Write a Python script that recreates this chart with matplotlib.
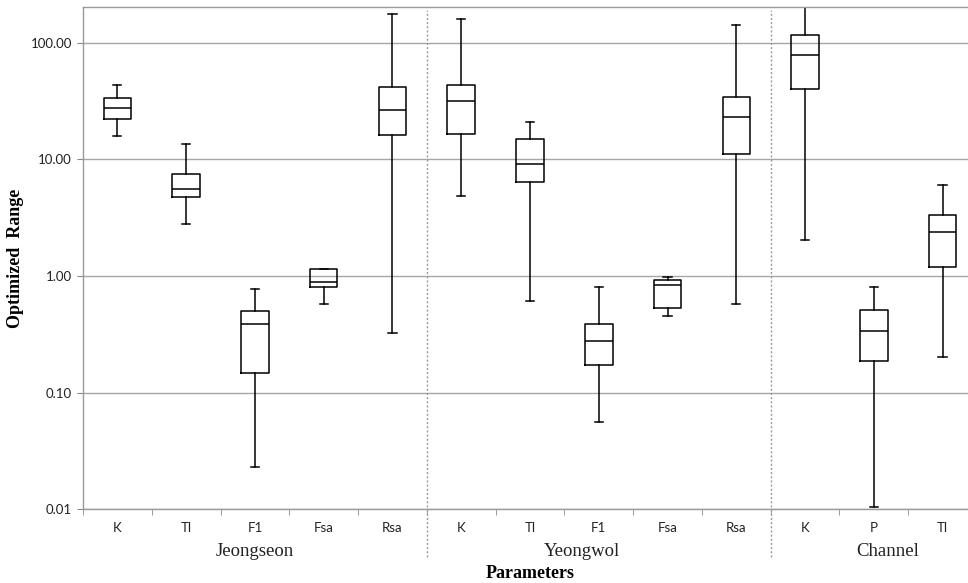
import matplotlib
matplotlib.use("Agg")
import matplotlib.pyplot as plt
import matplotlib.transforms as mtransforms

# box statistics per parameter (log scale values)
labels = ["K", "Tl", "F1", "Fsa", "Rsa",
          "K", "Tl", "F1", "Fsa", "Rsa",
          "K", "P", "Tl"]
whislo = [15.8, 2.81, 0.0232, 0.575, 0.327,
          4.85, 0.610, 0.056, 0.454, 0.575,
          2.04, 0.0105, 0.202]
q1 = [22.2, 4.79, 0.147, 0.80, 16.1,
      16.6, 6.43, 0.171, 0.528, 11.2,
      40.3, 0.188, 1.19]
med = [27.4, 5.53, 0.385, 0.894, 26.3,
       31.6, 9.07, 0.279, 0.84, 23.2,
       78.0, 0.338, 2.40]
q3 = [33.8, 7.45, 0.504, 1.14, 41.5,
      43.1, 14.9, 0.390, 0.92, 34.2,
      115.7, 0.514, 3.33]
whishi = [43.1, 13.4, 0.778, 1.15, 176.0,
          160.6, 20.8, 0.81, 0.98, 142.7,
          260.0, 0.81, 6.03]

groups = ["Jeongseon", "Yeongwol", "Channel"]
group_x = [2.0, 6.75, 11.2]
separators = [4.5, 9.5]

stats = []
for i in range(len(labels)):
    stats.append(dict(label=labels[i], whislo=whislo[i], q1=q1[i], med=med[i],
                      q3=q3[i], whishi=whishi[i], fliers=[]))

fig = plt.figure(figsize=(9.68, 5.83), dpi=100)
ax = fig.add_axes([0.0857, 0.1264, 0.9236, 0.8611])

positions = list(range(len(labels)))
blk = dict(color="black", linewidth=1.1)
ax.bxp(stats, positions=positions, widths=0.4, showfliers=False,
       boxprops=blk, medianprops=blk, whiskerprops=blk,
       capprops=dict(color="black", linewidth=1.1), capwidths=0.12)

ax.set_yscale("log")
ax.set_ylim(0.01, 201)
ax.set_xlim(-0.5, len(labels) - 0.5)

ax.set_yticks([0.01, 0.1, 1, 10, 100])
ax.set_yticklabels(["0.01", "0.10", "1.00", "10.00", "100.00"])
ax.yaxis.set_minor_locator(matplotlib.ticker.NullLocator())
ax.grid(axis="y", which="major", color="#a6a6a6", linewidth=1.0)
ax.set_axisbelow(True)

ax.set_xticks(positions)
ax.set_xticklabels(labels)
ax.set_xticks([p - 0.5 for p in positions] + [len(labels) - 0.5], minor=True)
ax.tick_params(axis="x", which="major", length=0, pad=9, labelsize=9.5)
ax.tick_params(axis="x", which="minor", length=4, color="#888888", direction="out")
ax.tick_params(axis="y", length=4, color="#888888", labelsize=9.5, pad=4)
for lab in ax.get_xticklabels() + ax.get_yticklabels():
    lab.set_fontfamily("Lato")
    lab.set_color("#222222")

for side in ["left", "bottom", "top"]:
    ax.spines[side].set_color("#9a9a9a")
    ax.spines[side].set_linewidth(1.0)
ax.spines["right"].set_visible(False)

# dotted separators between the basins, running down into the label area
trans = mtransforms.blended_transform_factory(ax.transData, ax.transAxes)
for xs in separators:
    ax.plot([xs, xs], [-0.095, 0.995], transform=trans, color="#999999",
            linestyle=(0, (1.5, 1.5)), linewidth=1.0, clip_on=False)

for name, gx in zip(groups, group_x):
    ax.text(gx, -0.085, name, transform=trans, ha="center", va="center",
            fontsize=13.5, family="Liberation Serif", color="#222222")

ax.text(6.0, -0.127, "Parameters", transform=trans, ha="center", va="center",
        fontsize=13, family="Liberation Serif", fontweight="bold")
fig.text(0.0155, 0.5575, "Optimized  Range", rotation=90, ha="center", va="center",
         fontsize=13, family="Liberation Serif", fontweight="bold")

fig.savefig("out.png", dpi=100)
